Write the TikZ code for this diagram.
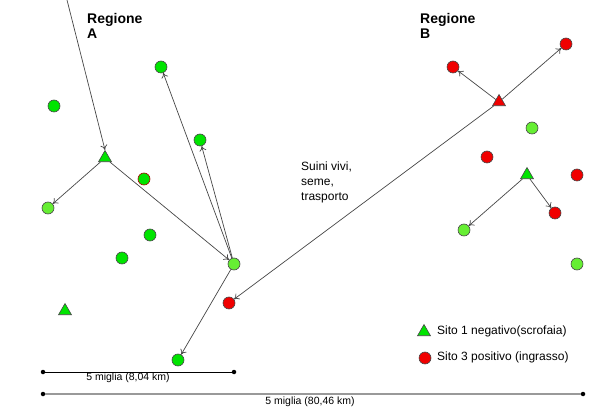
\documentclass[tikz,border=0pt]{standalone}
\usepackage{fontspec}
\setmainfont{Liberation Sans}
\usetikzlibrary{shapes.geometric,arrows.meta}
\definecolor{gbright}{RGB}{0,228,0}
\definecolor{glight}{RGB}{102,238,51}
\definecolor{rsite}{RGB}{240,0,0}
\definecolor{edgec}{RGB}{70,70,70}
\tikzset{
  site/.style={circle,draw=edgec,line width=0.6pt,minimum size=12pt,inner sep=0pt},
  gsite/.style={site,fill=gbright},
  lsite/.style={site,fill=glight},
  rsite/.style={site,fill=rsite},
  tri/.style={regular polygon,regular polygon sides=3,draw=edgec,line width=0.6pt,minimum size=15pt,inner sep=0pt},
  flow/.style={draw=edgec,line width=0.7pt,-{To[length=5pt,width=7pt]}},
  lbl/.style={font=\fontsize{12}{15}\selectfont,align=left,inner sep=0pt,anchor=north west},
  reg/.style={font=\fontsize{14}{15}\selectfont\bfseries,align=left,inner sep=0pt,anchor=north west},
  dotc/.style={circle,fill=black,minimum size=4.5pt,inner sep=0pt}
}
\begin{document}
\begin{tikzpicture}[x=1pt,y=-1pt]
\useasboundingbox (0,0) rectangle (610,419);
% region labels
\node[reg] (regA) at (87,13) {Regione\\A};
\node[reg] (regB) at (420,13) {Regione\\B};
% Region A sites
\node[tri,fill=gbright] (tA) at (105,158) {};
\node[lsite] (a1) at (48,208) {};
\node[lsite] (hub) at (234,264) {};
\node[gsite] (a2) at (54,106) {};
\node[gsite] (a3) at (161,67) {};
\node[gsite] (a4) at (200,140) {};
\node[site,draw=rsite!70!black,fill=gbright] (a5) at (144,179) {};
\node[gsite] (a6) at (150,235) {};
\node[gsite] (a7) at (122,258) {};
\node[tri,fill=gbright] (tA2) at (65,311) {};
\node[rsite] (a8) at (229,303) {};
\node[gsite] (a9) at (178,360) {};
% Region B sites
\node[tri,fill=rsite] (tB) at (499,102) {};
\node[rsite] (b1) at (453,67) {};
\node[rsite] (b2) at (566,44) {};
\node[lsite] (b3) at (532,128) {};
\node[rsite] (b4) at (487,157) {};
\node[tri,fill=gbright] (tB2) at (527,175) {};
\node[rsite] (b5) at (577,175) {};
\node[lsite] (b6) at (464,230) {};
\node[rsite] (b7) at (555,213) {};
\node[lsite] (b8) at (577,264) {};
% connectors
\coordinate (top) at (67,0);
\draw[flow] (top) -- (tA.north);
\draw[flow] (tA) -- (a1);
\draw[flow] (tA) -- (hub);
\draw[flow] (hub) -- (a3);
\draw[flow] (hub) -- (a4);
\draw[flow] (hub) -- (a9);
\draw[flow] (tB) -- (a8);
\draw[flow] (tB) -- (b1);
\draw[flow] (tB) -- (b2);
\draw[flow] (tB2) -- (b6);
\draw[flow] (tB2) -- (b7);
% label
\node[lbl] (flowlbl) at (301,162) {Suini vivi,\\seme,\\trasporto};
% legend
\node[tri,fill=gbright] (lgT) at (424,332) {};
\node[lbl,anchor=west] (lgT1) at (437,331) {Sito 1 negativo(scrofaia)};
\node[rsite] (lgC) at (425,358) {};
\node[lbl,anchor=west] (lgC1) at (437,357) {Sito 3 positivo (ingrasso)};
% scale bars
\node[dotc] (s1a) at (43,372) {};
\node[dotc] (s1b) at (234,372) {};
\draw[black,line width=0.8pt] (s1a) -- (s1b);
\node[lbl,anchor=center,font=\fontsize{10.5}{12}\selectfont] (s1l) at (128,378) {5 miglia (8,04 km)};
\node[dotc] (s2a) at (43,394) {};
\node[dotc] (s2b) at (583,394) {};
\draw[gray!80,line width=1.2pt] (s2a) -- (s2b);
\node[lbl,anchor=center,font=\fontsize{10.5}{12}\selectfont] (s2l) at (310,402) {5 miglia (80,46 km)};
\end{tikzpicture}
\end{document}
